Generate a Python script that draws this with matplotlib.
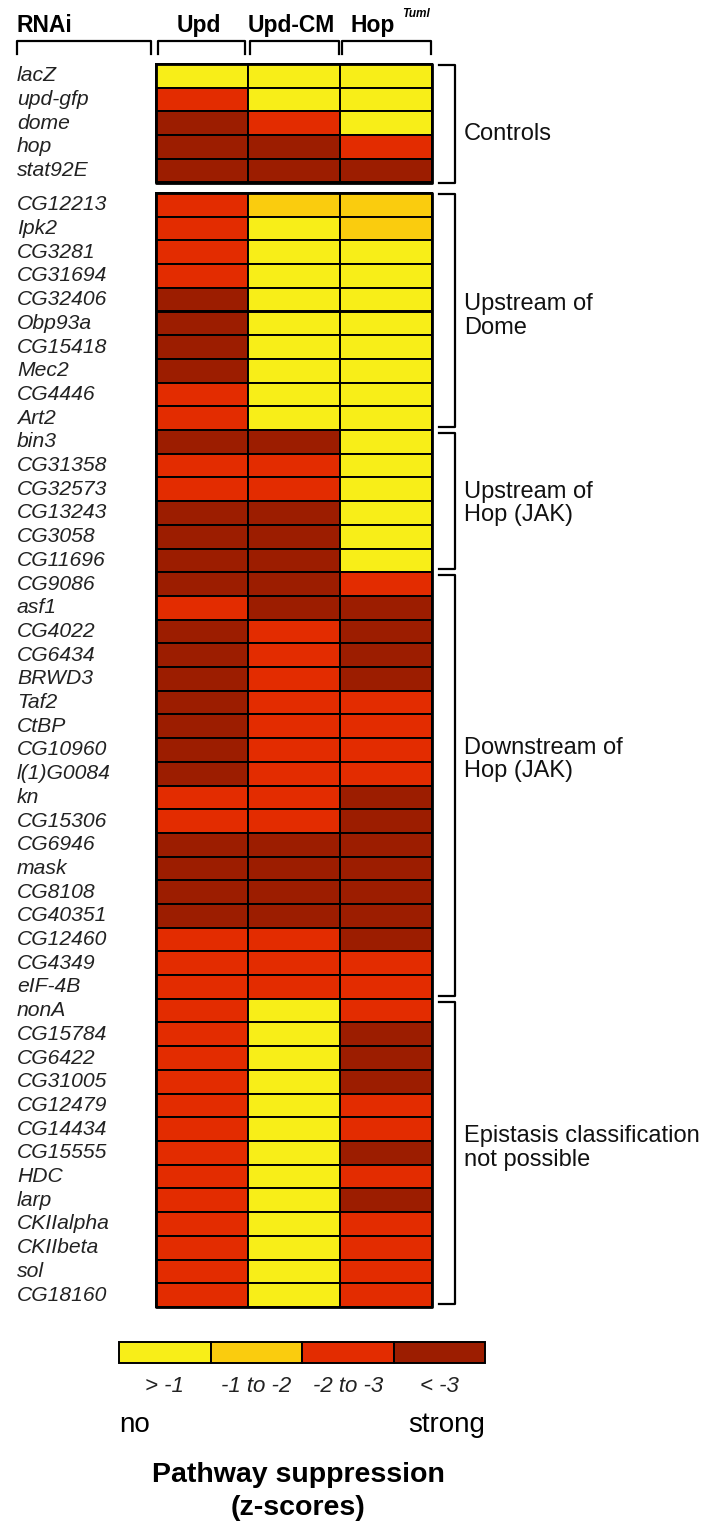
import numpy as np
import matplotlib
matplotlib.use("Agg")
from matplotlib import pyplot as plt

plt.rcParams['font.family'] = ['Liberation Sans', 'DejaVu Sans']

#============================================================
# Data: suppression class per RNAi (0: > -1, 1: -1 to -2, 2: -2 to -3, 3: < -3)
#============================================================

genes = ["lacZ", "upd-gfp", "dome", "hop", "stat92E",
         "CG12213", "Ipk2", "CG3281", "CG31694", "CG32406", "Obp93a", "CG15418", "Mec2", "CG4446", "Art2",
         "bin3", "CG31358", "CG32573", "CG13243", "CG3058", "CG11696",
         "CG9086", "asf1", "CG4022", "CG6434", "BRWD3", "Taf2", "CtBP", "CG10960", "l(1)G0084",
         "kn", "CG15306", "CG6946", "mask", "CG8108", "CG40351", "CG12460", "CG4349", "eIF-4B",
         "nonA", "CG15784", "CG6422", "CG31005", "CG12479", "CG14434", "CG15555", "HDC", "larp",
         "CKIIalpha", "CKIIbeta", "sol", "CG18160"]

upd    = [0, 2, 3, 3, 3,
          2, 2, 2, 2, 3, 3, 3, 3, 2, 2,
          3, 2, 2, 3, 3, 3,
          3, 2, 3, 3, 3, 3, 3, 3, 3, 2, 2, 3, 3, 3, 3, 2, 2, 2,
          2, 2, 2, 2, 2, 2, 2, 2, 2, 2, 2, 2, 2]
upd_cm = [0, 0, 2, 3, 3,
          1, 0, 0, 0, 0, 0, 0, 0, 0, 0,
          3, 2, 2, 3, 3, 3,
          3, 3, 2, 2, 2, 2, 2, 2, 2, 2, 2, 3, 3, 3, 3, 2, 2, 2,
          0, 0, 0, 0, 0, 0, 0, 0, 0, 0, 0, 0, 0]
hop    = [0, 0, 0, 2, 3,
          1, 1, 0, 0, 0, 0, 0, 0, 0, 0,
          0, 0, 0, 0, 0, 0,
          2, 3, 3, 3, 3, 2, 2, 2, 2, 3, 3, 3, 3, 3, 3, 3, 2, 2,
          2, 3, 3, 3, 2, 2, 3, 2, 3, 2, 2, 2, 2]

columns = ["Upd", "Upd-CM", "Hop"]
group_names = ["Controls", "Upstream of\nDome", "Upstream of\nHop (JAK)",
               "Downstream of\nHop (JAK)", "Epistasis classification\nnot possible"]
group_sizes = [5, 10, 6, 18, 13]

legend_labels = ["> -1", "-1 to -2", "-2 to -3", "< -3"]
class_colors = ["#F8EE18", "#FACC0E", "#E32C00", "#9C1D00"]

#============================================================
# Layout (figure drawn in pixel coordinates)
#============================================================

x0      = 156
col_w   = 92
row_h   = 23.7
top     = 64
gap     = 10.5
label_shift = [0.45, 0.2, 0.1, -1.1, -0.2]

fig = plt.figure(figsize=(7.04, 15.26), dpi=100)
ax = fig.add_axes([0, 0, 1, 1])
ax.set_xlim(0, 704)
ax.set_ylim(1526, 0)
ax.axis("off")

row_y = top + np.arange(len(genes)) * row_h + np.where(np.arange(len(genes)) >= group_sizes[0], gap, 0)

for c, vals in enumerate([upd, upd_cm, hop]):
    ax.barh(row_y + row_h/2, col_w, left=x0 + c*col_w, height=row_h,
            color=[class_colors[v] for v in vals], edgecolor="black", linewidth=1.4)

for y, g in zip(row_y, genes):
    ax.text(17, y + row_h/2, g, fontsize=15.2, style="italic", va="center", ha="left", color="#222222")

# outer frames and group brackets
starts = np.cumsum([0] + group_sizes[:-1])
for k, (s, n) in enumerate(zip(starts, group_sizes)):
    y1 = row_y[s]
    y2 = row_y[s] + n*row_h
    if k == 0 or k == 1:
        bt = y2 if k == 0 else row_y[-1] + row_h
        ax.plot([x0, x0 + 3*col_w, x0 + 3*col_w, x0, x0], [y1, y1, bt, bt, y1], color="black", lw=2)
    b1 = y1 + (1 if k < 2 else 3)
    b2 = y2 - (0 if k == 0 else 3)
    ax.plot([439, 455, 455, 439], [b1, b1, b2, b2], color="black", lw=1.6)
    ax.text(464, (y1 + y2)/2 + label_shift[k]*row_h, group_names[k], fontsize=17,
            va="center", ha="left", linespacing=1.1, color="#111111")

# column headers with brackets
ax.text(17, 32, "RNAi", fontsize=16.5, weight="bold", ha="left", va="baseline")
ax.plot([17, 17, 151, 151], [54, 41, 41, 54], color="black", lw=1.6)
for c, name in enumerate(columns):
    xl = x0 + 2 + c*col_w
    xr = x0 + (c + 1)*col_w - 1 - (c == 0)*2
    ax.plot([xl, xl, xr, xr], [54, 41, 41, 54], color="black", lw=1.6)
    if c < 2:
        ax.text(x0 + (c + 0.5)*col_w - 3, 32, name, fontsize=16.5, weight="bold", ha="center", va="baseline")
    else:
        ax.text(351, 32, name, fontsize=16.5, weight="bold", ha="left", va="baseline")
        ax.text(402, 17, "Tuml", fontsize=8.5, weight="bold", style="italic", ha="left", va="baseline")

# legend
leg_x = 119
leg_w = 91.5
ax.barh([1352.5]*4, leg_w, left=leg_x + np.arange(4)*leg_w, height=21,
        color=class_colors, edgecolor="black", linewidth=1.4)
for k, lab in enumerate(legend_labels):
    ax.text(leg_x + (k + 0.5)*leg_w, 1387, lab, fontsize=16, style="italic", ha="center", va="center", color="#222222")
ax.text(leg_x, 1425, "no", fontsize=20, ha="left", va="center")
ax.text(leg_x + 4*leg_w, 1425, "strong", fontsize=20, ha="right", va="center")
ax.text(298, 1475, "Pathway suppression", fontsize=20.5, weight="bold", ha="center", va="center")
ax.text(298, 1508, "(z-scores)", fontsize=20.5, weight="bold", ha="center", va="center")

plt.savefig("out.png", dpi=100)
